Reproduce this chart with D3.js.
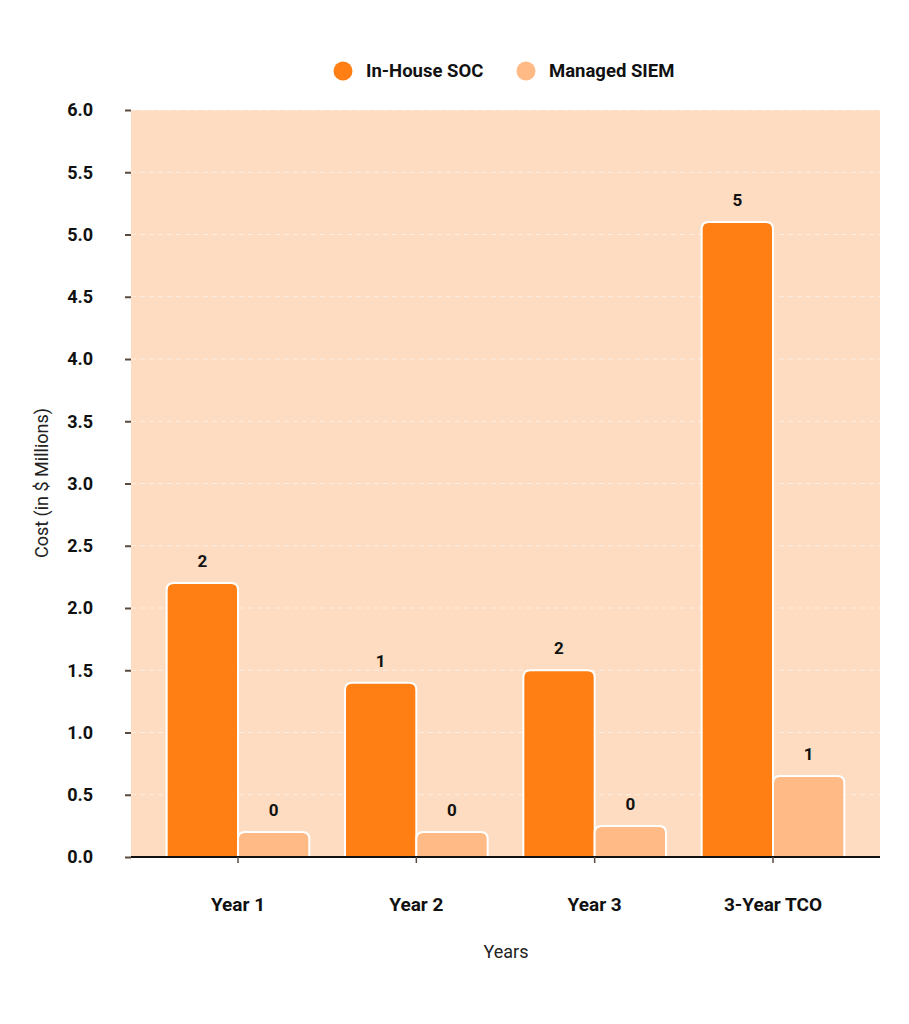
<!DOCTYPE html>
<html>
<head>
<meta charset="utf-8">
<script src="https://cdn.jsdelivr.net/npm/d3@7"></script>
<style>
  body { margin: 0; background: #fff; font-family: Roboto, "Noto Sans", sans-serif; }
</style>
</head>
<body>
<svg id="chart" width="909" height="1024"></svg>
<script>
const categories = ["Year 1", "Year 2", "Year 3", "3-Year TCO"];
const seriesNames = ["In-House SOC", "Managed SIEM"];
const inHouse = [2.2, 1.4, 1.5, 5.1];
const managed = [0.2, 0.2, 0.25, 0.65];
const yTicks = [0, 0.5, 1, 1.5, 2, 2.5, 3, 3.5, 4, 4.5, 5, 5.5, 6];
const colors = ["#ff7f15", "#ffba85"];

const svg = d3.select("#chart");
const margin = { top: 110, right: 29, bottom: 167, left: 131 };
const width = 909 - margin.left - margin.right,
    height = 1024 - margin.top - margin.bottom;

const g = svg.append("g").attr("transform", `translate(${margin.left},${margin.top})`);

const x0 = d3.scaleBand().domain(categories).range([0, width]).paddingInner(0.2).paddingOuter(0.2);
const x1 = d3.scaleBand().domain(seriesNames).range([0, x0.bandwidth()]);
const y = d3.scaleLinear().domain([0, 6]).range([height, 0]);

// plot background
g.append("rect")
    .attr("width", width)
    .attr("height", height)
    .attr("fill", "#fedcc1");

// grid lines
g.append("g")
    .selectAll("line")
    .data(yTicks.slice(1))
    .enter().append("line")
    .attr("x1", 0)
    .attr("x2", width)
    .attr("y1", d => y(d))
    .attr("y2", d => y(d))
    .attr("stroke", "#fff")
    .attr("stroke-opacity", 0.55)
    .attr("stroke-dasharray", "5,4");

// y axis
const yAxis = g.append("g")
    .call(d3.axisLeft(y).tickValues(yTicks).tickFormat(d3.format(".1f")).tickSize(6).tickPadding(32));
yAxis.select(".domain").remove();
yAxis.selectAll(".tick line").attr("stroke", "#5a4a40").attr("stroke-width", 2);
yAxis.selectAll(".tick text")
    .attr("fill", "#111")
    .style("font-family", "Roboto")
    .style("font-size", "18px")
    .style("font-weight", "bold");

// bars
const data = categories.map((c, i) => ({ cat: c, values: [inHouse[i], managed[i]] }));

function topRounded(xp, yp, w, h, r) {
    r = Math.min(r, h, w / 2);
    return `M${xp},${yp + h}V${yp + r}Q${xp},${yp} ${xp + r},${yp}H${xp + w - r}Q${xp + w},${yp} ${xp + w},${yp + r}V${yp + h}Z`;
}

const group = g.append("g")
    .selectAll("g")
    .data(data)
    .enter().append("g")
    .attr("transform", d => `translate(${x0(d.cat)},0)`);

group.selectAll("path")
    .data(d => d.values.map((v, i) => ({ key: seriesNames[i], value: v, i: i })))
    .enter().append("path")
    .attr("d", d => topRounded(x1(d.key), y(d.value), x1.bandwidth(), height - y(d.value), 7))
    .attr("fill", d => colors[d.i])
    .attr("stroke", "#fff")
    .attr("stroke-width", 2);

group.selectAll("text")
    .data(d => d.values.map((v, i) => ({ key: seriesNames[i], value: v })))
    .enter().append("text")
    .attr("x", d => x1(d.key) + x1.bandwidth() / 2)
    .attr("y", d => y(d.value) - 16)
    .attr("text-anchor", "middle")
    .style("font-size", "17px")
    .style("font-weight", "bold")
    .attr("fill", "#111")
    .text(d => d3.format(".0f")(d.value));

// x axis
const xAxis = g.append("g")
    .attr("transform", `translate(0,${height})`)
    .call(d3.axisBottom(x0).tickSize(6).tickPadding(35));
xAxis.select(".domain").attr("stroke", "#111").attr("stroke-width", 2).attr("d", `M0,0H${width}`);
xAxis.selectAll(".tick line").attr("stroke", "#5a4a40").attr("stroke-width", 1.5);
xAxis.selectAll(".tick text")
    .attr("fill", "#111")
    .style("font-family", "Roboto")
    .style("font-size", "19px")
    .style("font-weight", "bold");

// axis titles
svg.append("text")
    .attr("x", 506)
    .attr("y", 958)
    .attr("text-anchor", "middle")
    .style("font-size", "18px")
    .attr("fill", "#222")
    .text("Years");

svg.append("text")
    .attr("transform", "translate(48,483) rotate(-90)")
    .attr("text-anchor", "middle")
    .style("font-size", "18px")
    .attr("fill", "#222")
    .text("Cost (in $ Millions)");

// legend
const legendX = [343, 526];
const legend = svg.append("g")
    .selectAll("g")
    .data(seriesNames)
    .enter().append("g")
    .attr("transform", (d, i) => `translate(${legendX[i]},71)`);

legend.append("circle")
    .attr("r", 9.5)
    .attr("fill", (d, i) => colors[i]);

legend.append("text")
    .attr("x", 23)
    .attr("dy", "0.35em")
    .style("font-size", "18.5px")
    .style("font-weight", "bold")
    .attr("fill", "#111")
    .text(d => d);
</script>
</body>
</html>
